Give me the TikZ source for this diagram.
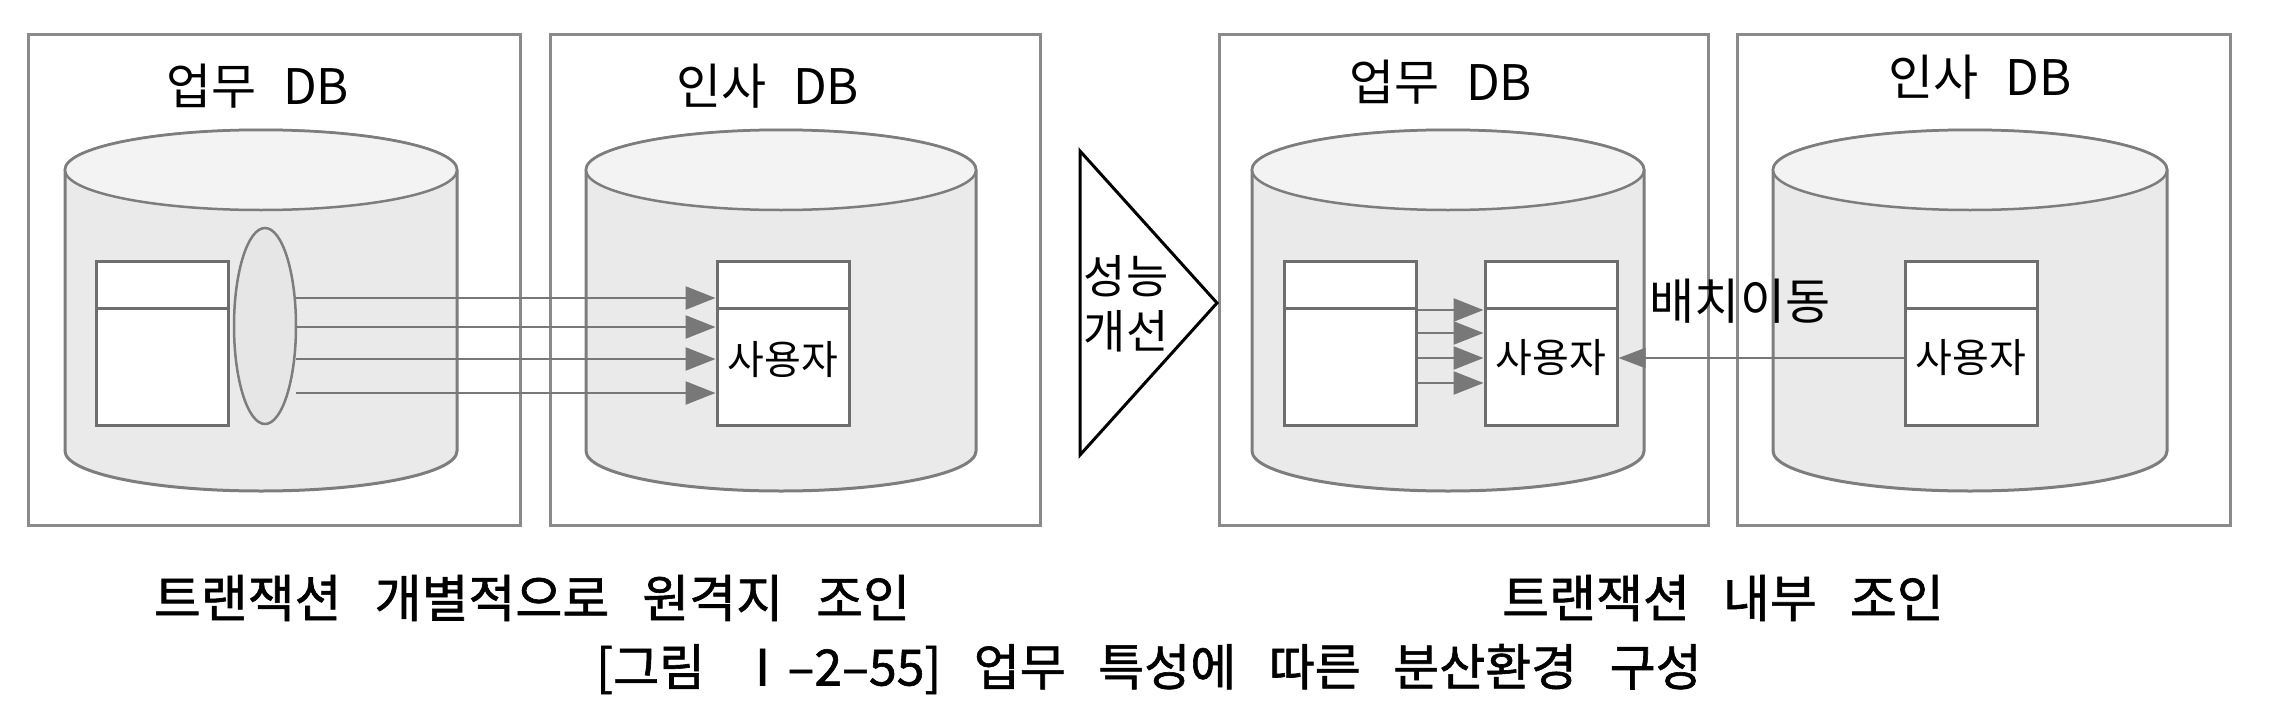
\documentclass[tikz,border=0pt]{standalone}
\usepackage{fontspec}
\setmainfont{Noto Sans CJK KR}
\newfontfamily\ttlfont[WordSpace=2.4]{Noto Sans CJK KR}
\newfontfamily\botfont[WordSpace=2.0,FakeBold=1.2]{Noto Sans CJK KR}
\newfontfamily\capfont[WordSpace=2.9,FakeBold=1.2]{Noto Sans CJK KR}
\usetikzlibrary{arrows.meta,shapes.geometric}
\definecolor{framegray}{RGB}{138,138,138}
\definecolor{cylline}{RGB}{125,125,125}
\definecolor{cylfill}{RGB}{234,234,234}
\definecolor{cyltopfill}{RGB}{243,243,243}
\definecolor{tblline}{RGB}{110,110,110}
\definecolor{arrgray}{RGB}{120,120,120}
\definecolor{ovalfill}{RGB}{230,230,230}
\newcommand{\mycyl}[5]{%
  \filldraw[cylbody] ({#1-#4},#2) -- ({#1-#4},#3)
    arc[start angle=180,end angle=0,x radius=#4,y radius=#5]
    -- ({#1+#4},#2)
    arc[start angle=0,end angle=-180,x radius=#4,y radius=#5] -- cycle;
  \filldraw[cyltop] (#1,#2) ellipse[x radius=#4,y radius=#5];
}
\tikzset{
  frame/.style={draw=framegray,line width=3pt},
  cylbody/.style={draw=cylline,fill=cylfill,line width=3pt},
  cyltop/.style={draw=cylline,fill=cyltopfill,line width=2.5pt},
  tbl/.style={draw=tblline,fill=white,line width=3pt,minimum width=132pt,minimum height=164pt,inner sep=0pt},
  divider/.style={draw=tblline,line width=3pt},
  oval/.style={ellipse,draw=cylline,fill=ovalfill,line width=2.5pt,minimum width=62pt,minimum height=196pt,inner sep=0pt},
  arr/.style={draw=arrgray,line width=2.5pt,-{Triangle[length=30pt,width=23pt,fill=arrgray]}},
  arrl/.style={draw=arrgray,line width=2pt,-{Triangle[length=27pt,width=20pt,fill=arrgray]}},
  ttl/.style={inner sep=0pt,font=\ttlfont\fontsize{49}{58}\selectfont},
  usr/.style={inner sep=0pt,font=\fontsize{40}{48}\selectfont},
  lbl/.style={inner sep=0pt,font=\fontsize{49}{58}\selectfont},
  perflbl/.style={inner sep=0pt,font=\fontsize{46}{57}\selectfont},
  bottomtxt/.style={inner sep=0pt,font=\botfont\fontsize{51}{60}\selectfont},
  captxt/.style={inner sep=0pt,font=\capfont\fontsize{50}{59}\selectfont},
  tri/.style={draw=black,fill=white,line width=3pt,line join=miter}
}
\begin{document}
\begin{tikzpicture}[x=1pt,y=-1pt]
\useasboundingbox (0,0) rectangle (2294,704);
\fill[white] (0,0) rectangle (2294,704);

% frames
\draw[frame] (28,34) rectangle (520,525);
\draw[frame] (550,34) rectangle (1040,525);
\draw[frame] (1219,34) rectangle (1708,525);
\draw[frame] (1737,34) rectangle (2230,525);

% titles
\node[ttl] (ttl1) at (258,86) {업무 DB};
\node[ttl] (ttl2) at (768,86) {인사 DB};
\node[ttl] (ttl3) at (1441,82) {업무 DB};
\node[ttl] (ttl4) at (1980,77) {인사 DB};

% cylinders
\mycyl{261}{170}{451}{196}{40}
\mycyl{781}{170}{451}{195}{40}
\mycyl{1448}{170}{451}{196}{40}
\mycyl{1970}{170}{451}{197}{40}

% tables
\node[tbl] (t1) at (162,343) {};
\node[tbl] (t2) at (783,343) {};
\node[tbl] (t3a) at (1350,343) {};
\node[tbl] (t3b) at (1551,343) {};
\node[tbl] (t4) at (1971,343) {};
\foreach \t in {t1,t2,t3a,t3b,t4}{
  \draw[divider] ([yshift=-49pt]\t.north west) -- ([yshift=-49pt]\t.north east);
}
\node[usr] (u2) at ([yshift=-17pt]t2.center) {사용자};
\node[usr] (u3) at ([yshift=-15pt]t3b.center) {사용자};
\node[usr] (u4) at ([yshift=-15pt]t4.center) {사용자};

% oval
\node[oval] (o1) at (265,326) {};

% left arrows: oval -> t2
\foreach \yy in {298,327,359,393}{
  \coordinate (s) at (296,\yy);
  \draw[arr] (s) -- (s -| t2.west);
}

% arrows t3a -> t3b
\foreach \yy in {310,333,358,383}{
  \coordinate (s) at (1416,\yy);
  \draw[arr] (s -| t3a.east) -- (s -| t3b.west);
}

% arrow t4 -> t3b
\coordinate (m) at (1905,358);
\draw[arrl] (m -| t4.west) -- (m -| t3b.east);
\node[lbl] (move) at (1740,301) {배치이동};

% triangle
\coordinate (ta) at (1080,151);
\coordinate (tb) at (1217,303);
\coordinate (tc) at (1080,455);
\draw[tri] (ta) -- (tb) -- (tc) -- cycle;
\node[perflbl,align=center] (perf) at (1126,304) {성능\\[-2pt]개선};

% bottom texts
\node[bottomtxt] (bl) at (532,598) {트랜잭션 개별적으로 원격지 조인};
\node[bottomtxt] (br) at (1723,598) {트랜잭션 내부 조인};
\node[captxt] (caption) at (1149,669) {[그림 Ⅰ–2–55] 업무 특성에 따른 분산환경 구성};
\end{tikzpicture}
\end{document}
